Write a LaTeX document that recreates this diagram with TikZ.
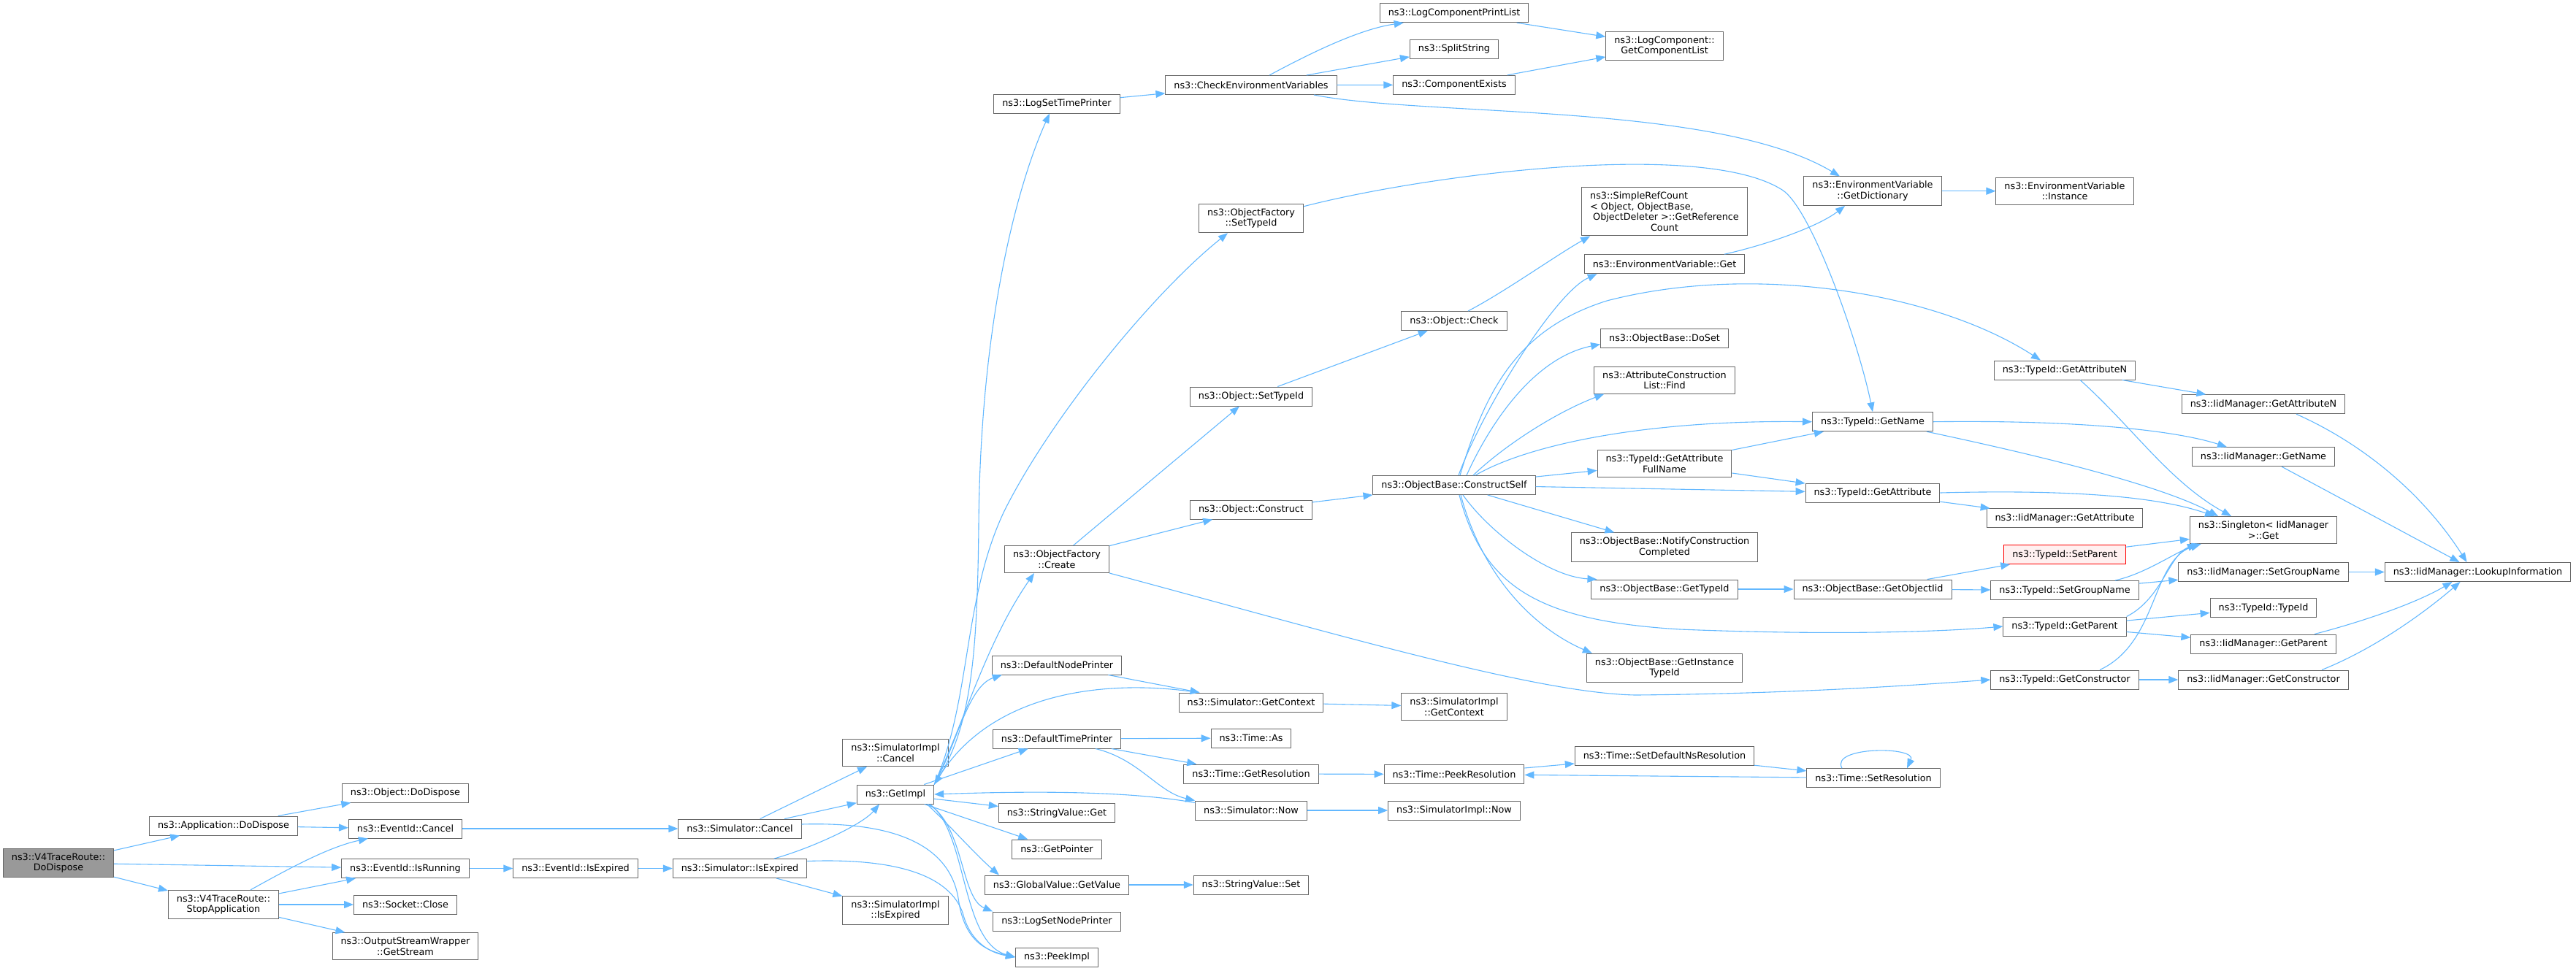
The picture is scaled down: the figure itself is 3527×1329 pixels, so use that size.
\documentclass[tikz,border=0pt]{standalone}
\usepackage{fontspec}
\setmainfont{DejaVu Sans}
\usepackage{tikz}
\usetikzlibrary{arrows.meta, calc}

\definecolor{callblue}{HTML}{63B8FF}
\definecolor{boxgray}{HTML}{666666}
\definecolor{rootgray}{HTML}{999999}
\definecolor{hlred}{HTML}{FF0000}
\definecolor{hlfill}{HTML}{FFF0F0}

\begin{document}
\begin{tikzpicture}[x=0.5pt, y=-0.5pt,
    fn/.style={draw=boxgray, line width=0.5pt, fill=white, inner xsep=5.75pt, inner ysep=3.1pt, minimum height=13pt, align=center, font=\fontsize{6.4pt}{7.35pt}\selectfont},
    root/.style={fn, fill=rootgray},
    hl/.style={fn, draw=hlred, fill=hlfill},
    call/.style={draw=callblue, line width=0.55pt, -{Triangle[length=6.5pt,width=5pt]}}
]
    \useasboundingbox (0,0) rectangle (3527,1329);

    % V4TraceRoute and its direct callees
    \node[root] (dodispose) at (80,1182) {ns3::V4TraceRoute::\\DoDispose};
    \node[fn] (appdispose) at (306,1131) {ns3::Application::DoDispose};
    \node[fn] (stopapp) at (306,1239) {ns3::V4TraceRoute::\\StopApplication};
    \node[fn] (objdispose) at (555,1086) {ns3::Object::DoDispose};
    \node[fn] (evcancel) at (555,1135) {ns3::EventId::Cancel};
    \node[fn] (evrunning) at (555,1189.5) {ns3::EventId::IsRunning};
    \node[fn] (sockclose) at (555,1239) {ns3::Socket::Close};
    \node[fn] (getstream) at (555,1296) {ns3::OutputStreamWrapper\\::GetStream};
    \node[fn] (evexpired) at (788,1189.5) {ns3::EventId::IsExpired};

    % Simulator
    \node[fn] (simcancel) at (1013,1135) {ns3::Simulator::Cancel};
    \node[fn] (simexpired) at (1013,1189.5) {ns3::Simulator::IsExpired};
    \node[fn] (implcancel) at (1226,1031) {ns3::SimulatorImpl\\::Cancel};
    \node[fn] (getimpl) at (1226,1088) {ns3::GetImpl};
    \node[fn] (implexpired) at (1226,1247) {ns3::SimulatorImpl\\::IsExpired};

    % GetImpl callees
    \node[fn] (logtime) at (1447,142) {ns3::LogSetTimePrinter};
    \node[fn] (ofcreate) at (1447,766) {ns3::ObjectFactory\\::Create};
    \node[fn] (defnode) at (1447,911) {ns3::DefaultNodePrinter};
    \node[fn] (deftime) at (1447,1012) {ns3::DefaultTimePrinter};
    \node[fn] (strget) at (1447,1113.7) {ns3::StringValue::Get};
    \node[fn] (getpointer) at (1447,1163) {ns3::GetPointer};
    \node[fn] (gvgetvalue) at (1447,1212) {ns3::GlobalValue::GetValue};
    \node[fn] (lognode) at (1447,1262) {ns3::LogSetNodePrinter};
    \node[fn] (peekimpl) at (1447,1311) {ns3::PeekImpl};

    % Factory, printers, time
    \node[fn] (checkenv) at (1713,116.5) {ns3::CheckEnvironmentVariables};
    \node[fn] (ofsettypeid) at (1713,299) {ns3::ObjectFactory\\::SetTypeId};
    \node[fn] (objsettypeid) at (1713,543) {ns3::Object::SetTypeId};
    \node[fn] (objconstruct) at (1713,698) {ns3::Object::Construct};
    \node[fn] (simcontext) at (1713,962) {ns3::Simulator::GetContext};
    \node[fn] (timeas) at (1713,1011) {ns3::Time::As};
    \node[fn] (getres) at (1713,1060) {ns3::Time::GetResolution};
    \node[fn] (simnow) at (1713,1110) {ns3::Simulator::Now};
    \node[fn] (strset) at (1713,1212) {ns3::StringValue::Set};

    \node[fn] (logprint) at (1991,17.7) {ns3::LogComponentPrintList};
    \node[fn] (splitstr) at (1991,67) {ns3::SplitString};
    \node[fn] (compexists) at (1991,116.3) {ns3::ComponentExists};
    \node[fn] (objcheck) at (1991,439.5) {ns3::Object::Check};
    \node[fn] (constructself) at (1991,664.5) {ns3::ObjectBase::ConstructSelf};
    \node[fn] (implcontext) at (1991,968) {ns3::SimulatorImpl\\::GetContext};
    \node[fn] (peekres) at (1991,1060.5) {ns3::Time::PeekResolution};
    \node[fn] (implnow) at (1991,1110) {ns3::SimulatorImpl::Now};

    % ObjectBase and environment
    \node[fn] (complist) at (2279,63) {ns3::LogComponent::\\GetComponentList};
    \node[fn, align=left] (refcount) at (2279,289.7) {ns3::SimpleRefCount\\< Object, ObjectBase,\\\hspace*{2pt}ObjectDeleter >::GetReference\\\hspace*{\fill}Count\hspace*{\fill}};
    \node[fn] (envget) at (2279,361.7) {ns3::EnvironmentVariable::Get};
    \node[fn] (doset) at (2279,463.5) {ns3::ObjectBase::DoSet};
    \node[fn] (acfind) at (2279,520.7) {ns3::AttributeConstruction\\List::Find};
    \node[fn] (fullname) at (2279,635) {ns3::TypeId::GetAttribute\\FullName};
    \node[fn] (notify) at (2279,749.5) {ns3::ObjectBase::NotifyConstruction\\Completed};
    \node[fn] (obgettypeid) at (2279,807) {ns3::ObjectBase::GetTypeId};
    \node[fn] (insttypeid) at (2279,915) {ns3::ObjectBase::GetInstance\\TypeId};
    \node[fn] (setdefres) at (2279,1035) {ns3::Time::SetDefaultNsResolution};

    \node[fn] (getdict) at (2564,261.7) {ns3::EnvironmentVariable\\::GetDictionary};
    \node[fn] (getname) at (2564,577.7) {ns3::TypeId::GetName};
    \node[fn] (getattr) at (2564,675) {ns3::TypeId::GetAttribute};
    \node[fn] (getobjiid) at (2564,807) {ns3::ObjectBase::GetObjectIid};
    \node[fn] (setres) at (2565,1065.7) {ns3::Time::SetResolution};

    % TypeId
    \node[fn] (instance) at (2827,261.7) {ns3::EnvironmentVariable\\::Instance};
    \node[fn] (getattrn) at (2827,507) {ns3::TypeId::GetAttributeN};
    \node[fn] (iidgetattr) at (2827,709.7) {ns3::IidManager::GetAttribute};
    \node[hl] (setparent) at (2827,759.5) {ns3::TypeId::SetParent};
    \node[fn] (tsetgroup) at (2827,808.5) {ns3::TypeId::SetGroupName};
    \node[fn] (getparent) at (2827,858) {ns3::TypeId::GetParent};
    \node[fn] (getctor) at (2827,931) {ns3::TypeId::GetConstructor};

    % IidManager
    \node[fn] (iidattrn) at (3099,553.7) {ns3::IidManager::GetAttributeN};
    \node[fn] (iidname) at (3099,625.7) {ns3::IidManager::GetName};
    \node[fn] (singleton) at (3099,726) {ns3::Singleton< IidManager\\>::Get};
    \node[fn] (iidsetgroup) at (3099,783.5) {ns3::IidManager::SetGroupName};
    \node[fn] (typeidctor) at (3099,832.5) {ns3::TypeId::TypeId};
    \node[fn] (iidparent) at (3099,882) {ns3::IidManager::GetParent};
    \node[fn] (iidctor) at (3099,931) {ns3::IidManager::GetConstructor};
    \node[fn] (lookup) at (3392.5,783.5) {ns3::IidManager::LookupInformation};

    % calls from V4TraceRoute
    \draw[call] (dodispose) -- (appdispose);
    \draw[call] (dodispose) -- (evrunning);
    \draw[call] (dodispose) -- (stopapp);
    \draw[call] (appdispose) -- (objdispose);
    \draw[call] (appdispose) -- (evcancel);
    \draw[call] ($(stopapp.north)+(37,0)$) .. controls (395,1190) and (450,1160) .. ($(evcancel.south west)+(27,0)$);
    \draw[call] (stopapp) -- (evrunning);
    \draw[call] (stopapp) -- (sockclose);
    \draw[call] (stopapp) -- (getstream);
    \draw[call] (evcancel) -- (simcancel);
    \draw[call] (evrunning) -- (evexpired);
    \draw[call] (evexpired) -- (simexpired);

    % calls from Simulator
    \draw[call] (simcancel) -- (implcancel);
    \draw[call] (simcancel) -- (getimpl);
    \draw[call] ($(simcancel.east)+(0,-6)$) .. controls (1230,1125) and (1300,1160) .. (1312,1230) .. controls (1320,1290) and (1350,1302) .. (peekimpl.west);
    \draw[call] ($(simexpired.north)+(47,0)$) .. controls (1110,1162) and (1180,1130) .. ($(getimpl.south)+(-22,0)$);
    \draw[call] (simexpired) -- (implexpired);
    \draw[call] ($(simexpired.east)+(0,-10)$) .. controls (1230,1175) and (1300,1200) .. (1318,1250) .. controls (1328,1290) and (1355,1305) .. (peekimpl.west);

    % calls from GetImpl
    \draw[call] (getimpl.north east) .. controls (1330,1000) and (1338,900) .. (1340,720) .. controls (1342,450) and (1390,260) .. ($(logtime.south)+(-10,0)$);
    \draw[call] (getimpl.north east) .. controls (1330,960) and (1318,820) .. (1375,700) .. controls (1440,570) and (1580,400) .. ($(ofsettypeid.south)+(-32,0)$);
    \draw[call] (getimpl.north east) .. controls (1320,990) and (1350,880) .. ($(ofcreate.south)+(-31,0)$);
    \draw[call] (getimpl.north east) .. controls (1310,1020) and (1325,940) .. ($(defnode.south west)+(14,0)$);
    \draw[call] (getimpl) -- (deftime);
    \draw[call] (getimpl) -- (strget);
    \draw[call] (getimpl) -- (getpointer);
    \draw[call] ($(getimpl.south east)+(-10,0)$) .. controls (1300,1130) and (1335,1170) .. ($(gvgetvalue.north west)+(20,0)$);
    \draw[call] ($(getimpl.south east)+(-8,0)$) .. controls (1320,1130) and (1315,1230) .. (lognode.north west);
    \draw[call] ($(getimpl.south east)+(-6,0)$) .. controls (1325,1140) and (1315,1290) .. (peekimpl.west);

    % printers and time
    \draw[call] ($(simcontext.north west)+(27,0)$) .. controls (1520,930) and (1360,945) .. (getimpl.north east);
    \draw[call] (defnode) -- (simcontext);
    \draw[call] (deftime) -- (timeas);
    \draw[call] (deftime) -- (getres);
    \draw[call] ($(deftime.south)+(53,0)$) .. controls (1560,1040) and (1585,1085) .. (simnow.north west);
    \draw[call] ($(simnow.north west)+(0,3)$) .. controls (1560,1086) and (1450,1082) .. (getimpl.east);
    \draw[call] (gvgetvalue) -- (strset);
    \draw[call] (simcontext) -- (implcontext);
    \draw[call] (getres) -- (peekres);
    \draw[call] (simnow) -- (implnow);
    \draw[call] (peekres) -- (setdefres);
    \draw[call] (setdefres) -- (setres);
    \draw[call] (setres) -- (peekres);
    \draw[call] ($(setres.north)+(-43,0)$) .. controls (2505,1022) and (2625,1022) .. ($(setres.north)+(46,0)$);

    % logging and environment
    \draw[call] (logtime) -- (checkenv);
    \draw[call] ($(checkenv.north)+(25,0)$) .. controls (1790,75) and (1860,40) .. ($(logprint.south west)+(33,0)$);
    \draw[call] (checkenv) -- (splitstr);
    \draw[call] (checkenv) -- (compexists);
    \draw[call] ($(checkenv.south)+(86,0)$) .. controls (1950,160) and (2350,140) .. ($(getdict.north)+(-45,0)$);
    \draw[call] (logprint) -- (complist);
    \draw[call] (compexists) -- (complist);
    \draw[call] (getdict) -- (instance);
    \draw[call] ($(envget.north)+(82,0)$) .. controls (2420,335) and (2490,310) .. ($(getdict.south)+(-38,0)$);

    % object factory
    \draw[call] ($(ofsettypeid.north east)+(0,4)$) .. controls (1950,240) and (2330,190) .. (2440,260) .. controls (2480,285) and (2545,470) .. (getname.north);
    \draw[call] (ofcreate) -- (objsettypeid);
    \draw[call] (ofcreate) -- (objconstruct);
    \draw[call] (ofcreate.south east) .. controls (1800,860) and (2100,950) .. (2240,952) .. controls (2450,950) and (2600,940) .. (getctor.west);
    \draw[call] (objsettypeid) -- (objcheck);
    \draw[call] ($(objcheck.north)+(19,0)$) .. controls (2060,400) and (2130,350) .. ($(refcount.south west)+(12,0)$);
    \draw[call] (objconstruct) -- (constructself);

    % calls from ConstructSelf
    \draw[call] ($(constructself.north)+(6,0)$) .. controls (2030,560) and (2130,400) .. ($(envget.south west)+(18,0)$);
    \draw[call] ($(constructself.north)+(8,0)$) .. controls (2035,530) and (2080,450) .. (2200,412) .. controls (2400,360) and (2650,400) .. ($(getattrn.north)+(-33,0)$);
    \draw[call] ($(constructself.north)+(17,0)$) .. controls (2040,580) and (2100,490) .. ($(doset.west)+(0,8)$);
    \draw[call] ($(constructself.north)+(26,0)$) .. controls (2060,610) and (2130,565) .. ($(acfind.south west)+(14,0)$);
    \draw[call] ($(constructself.north)+(29,0)$) .. controls (2090,610) and (2250,575) .. (getname.west);
    \draw[call] (constructself) -- (fullname);
    \draw[call] (constructself) -- (getattr);
    \draw[call] (constructself) -- (notify);
    \draw[call] ($(constructself.south)+(12,0)$) .. controls (2040,730) and (2120,790) .. ($(obgettypeid.north west)+(8,0)$);
    \draw[call] ($(constructself.south)+(9,0)$) .. controls (2030,790) and (2100,860) .. ($(insttypeid.north west)+(8,0)$);
    \draw[call] ($(constructself.south)+(7,0)$) .. controls (2030,800) and (2100,850) .. (2300,862) .. controls (2500,870) and (2650,866) .. (getparent.west);

    % calls from TypeId
    \draw[call] (fullname) -- (getname);
    \draw[call] (fullname) -- (getattr);
    \draw[call] (getattrn) -- (iidattrn);
    \draw[call] ($(getattrn.south)+(21,0)$) .. controls (2920,585) and (2970,660) .. ($(singleton.north)+(-44,0)$);
    \draw[call] (getname.east) .. controls (2850,575) and (2980,590) .. ($(iidname.north)+(-50,0)$);
    \draw[call] ($(getname.south east)+(-9,0)$) .. controls (2750,615) and (2950,660) .. ($(singleton.north)+(-62,0)$);
    \draw[call] (getattr.east) .. controls (2850,670) and (2960,682) .. ($(singleton.north)+(-67,0)$);
    \draw[call] (getattr) -- (iidgetattr);
    \draw[call] (setparent) -- (singleton);
    \draw[call] ($(tsetgroup.north)+(69,0)$) .. controls (2940,785) and (2980,755) .. ($(singleton.south west)+(16,0)$);
    \draw[call] (tsetgroup) -- (iidsetgroup);
    \draw[call] (obgettypeid) -- (getobjiid);
    \draw[call] (getobjiid) -- (setparent);
    \draw[call] (getobjiid) -- (tsetgroup);
    \draw[call] (getparent.north east) .. controls (2960,820) and (2970,760) .. ($(singleton.south west)+(10,0)$);
    \draw[call] (getparent) -- (typeidctor);
    \draw[call] (getparent) -- (iidparent);
    \draw[call] ($(getctor.north)+(48,0)$) .. controls (2955,880) and (2945,770) .. ($(singleton.south west)+(14,0)$);
    \draw[call] (getctor) -- (iidctor);

    % calls into LookupInformation
    \draw[call] ($(iidattrn.south)+(45,0)$) .. controls (3240,610) and (3320,680) .. ($(lookup.north)+(-15,0)$);
    \draw[call] (iidname) -- (lookup);
    \draw[call] (iidsetgroup) -- (lookup);
    \draw[call] ($(iidparent.north)+(70,0)$) .. controls (3240,850) and (3310,825) .. ($(lookup.south)+(-35,0)$);
    \draw[call] ($(iidctor.north)+(80,0)$) .. controls (3260,885) and (3330,830) .. ($(lookup.south)+(-24,0)$);
\end{tikzpicture}
\end{document}
